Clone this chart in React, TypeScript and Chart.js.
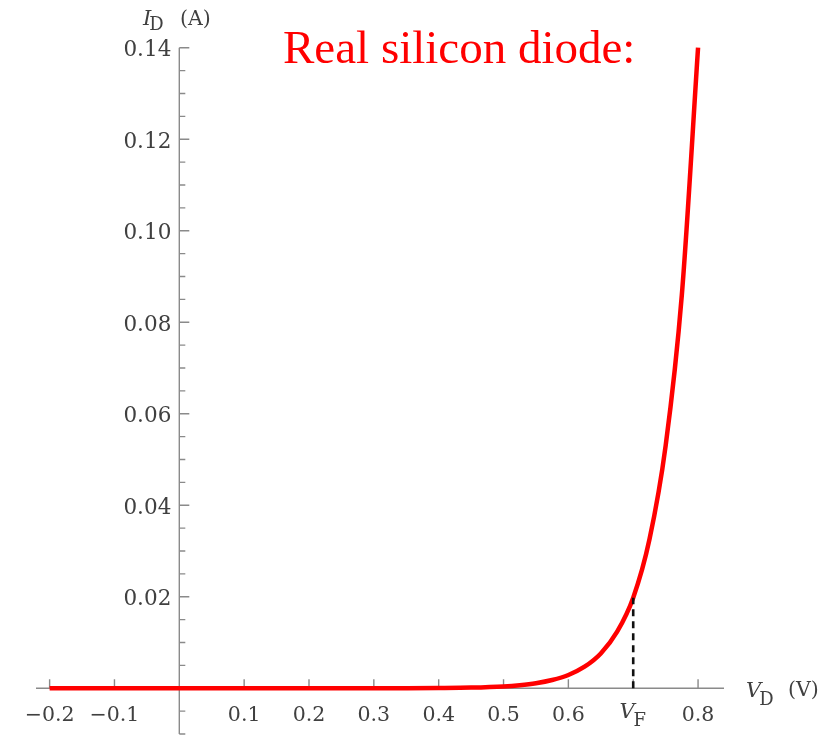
import React, { useEffect, useRef } from "react";
import { Chart, registerables } from "chart.js";

Chart.register(...registerables);

// ---- data ----
const VOLTAGE = [-0.2, 0, 0.2, 0.3, 0.35, 0.4, 0.45, 0.5, 0.525, 0.55, 0.575, 0.6, 0.625, 0.65, 0.675, 0.7, 0.725, 0.75, 0.775, 0.8];
const CURRENT = [0, 0, 0, 0.000004, 0.00002, 0.00006, 0.00015, 0.0004, 0.00067, 0.0011, 0.0018, 0.0029, 0.0047, 0.0076, 0.0123, 0.0198, 0.0325, 0.053, 0.086, 0.14];

const VF_VOLTAGE = 0.7;
const VF_CURRENT = 0.0198;

const X_TICK_VALUES = [-0.2, -0.1, 0.1, 0.2, 0.3, 0.4, 0.5, 0.6, 0.7, 0.8];
const X_TICK_LABELS = ["\u22120.2", "\u22120.1", "0.1", "0.2", "0.3", "0.4", "0.5", "0.6", "VF", "0.8"];
const Y_MAJOR_TICKS = [0.02, 0.04, 0.06, 0.08, 0.1, 0.12, 0.14];
const Y_MAJOR_LABELS = ["0.02", "0.04", "0.06", "0.08", "0.10", "0.12", "0.14"];
const Y_MINOR_STEP = 0.005;

const X_MIN = -0.221;
const X_MAX = 0.84;
const Y_MIN = -0.01;
const Y_MAX = 0.14;

const TITLE = "Real silicon diode:";

const AXIS_COLOR = "#8a8a8a";
const LABEL_COLOR = "#404040";
const SERIF = '"DejaVu Serif", serif';

const axesPlugin = {
  id: "mathAxes",
  beforeDatasetsDraw(chart: any) {
    const ctx: CanvasRenderingContext2D = chart.ctx;
    const xs = chart.scales.x;
    const ys = chart.scales.y;
    const x0 = xs.getPixelForValue(0);
    const y0 = ys.getPixelForValue(0);
    ctx.save();
    ctx.strokeStyle = AXIS_COLOR;
    ctx.lineWidth = 1.4;
    // axis lines
    ctx.beginPath();
    ctx.moveTo(xs.getPixelForValue(X_MIN), y0);
    ctx.lineTo(xs.getPixelForValue(X_MAX), y0);
    ctx.moveTo(x0, ys.getPixelForValue(Y_MIN));
    ctx.lineTo(x0, ys.getPixelForValue(Y_MAX));
    ctx.stroke();
    // y ticks
    ctx.beginPath();
    const nMinor = Math.round((Y_MAX - Y_MIN) / Y_MINOR_STEP);
    for (let i = 0; i <= nMinor; i++) {
      const v = Y_MIN + i * Y_MINOR_STEP;
      if (Math.abs(v) < 1e-9) continue;
      const isMajor = Y_MAJOR_TICKS.some((m) => Math.abs(m - v) < 1e-9);
      const py = ys.getPixelForValue(v);
      ctx.moveTo(x0, py);
      ctx.lineTo(x0 + (isMajor ? 10 : 6), py);
    }
    // x ticks (pointing up)
    X_TICK_VALUES.forEach((v) => {
      const px = xs.getPixelForValue(v);
      ctx.moveTo(px, y0);
      ctx.lineTo(px, y0 - 9);
    });
    ctx.stroke();

    // labels
    ctx.fillStyle = LABEL_COLOR;
    ctx.textBaseline = "alphabetic";
    ctx.textAlign = "right";
    ctx.font = `21.5px ${SERIF}`;
    Y_MAJOR_TICKS.forEach((v, i) => {
      ctx.fillText(Y_MAJOR_LABELS[i], x0 - 8, ys.getPixelForValue(v) + 8.5);
    });
    X_TICK_VALUES.forEach((v, i) => {
      const px = xs.getPixelForValue(v);
      const lab = X_TICK_LABELS[i];
      if (lab === "VF") {
        ctx.font = `italic 21px ${SERIF}`;
        const wV = ctx.measureText("V").width;
        ctx.font = `18px ${SERIF}`;
        const wF = ctx.measureText("F").width;
        const left = px - (wV + wF) / 2;
        ctx.textAlign = "left";
        ctx.font = `italic 21px ${SERIF}`;
        ctx.fillText("V", left, y0 + 30);
        ctx.font = `18px ${SERIF}`;
        ctx.fillText("F", left + wV - 1, y0 + 38);
      } else {
        ctx.font = `20.5px ${SERIF}`;
        ctx.textAlign = "center";
        ctx.fillText(lab, px, y0 + 33);
      }
    });

    // axis titles
    ctx.textAlign = "left";
    // I_D (A)
    ctx.font = `italic 21px ${SERIF}`;
    const wI = ctx.measureText("I").width;
    ctx.fillText("I", 143, 25);
    ctx.font = `18px ${SERIF}`;
    ctx.fillText("D", 143 + wI - 2, 30);
    ctx.font = `20.5px ${SERIF}`;
    ctx.fillText("(A)", 180, 25);
    // V_D (V)
    ctx.font = `italic 21px ${SERIF}`;
    const wV2 = ctx.measureText("V").width;
    ctx.fillText("V", 746, y0 + 8.5);
    ctx.font = `18px ${SERIF}`;
    ctx.fillText("D", 746 + wV2 - 2, y0 + 17);
    ctx.font = `20.5px ${SERIF}`;
    ctx.fillText("(V)", 788, y0 + 8);
    ctx.restore();
  },
  afterDraw(chart: any) {
    const ctx: CanvasRenderingContext2D = chart.ctx;
    ctx.save();
    ctx.fillStyle = "#ff0000";
    ctx.font = '47px "Liberation Serif"';
    ctx.textAlign = "left";
    ctx.textBaseline = "alphabetic";
    ctx.fillText(TITLE, 283, 63);
    ctx.restore();
  },
};

export default function App() {
  const ref = useRef<HTMLCanvasElement>(null);
  useEffect(() => {
    if (!ref.current) return;
    const chart = new Chart(ref.current, {
      type: "scatter",
      data: {
        datasets: [
          {
            data: [
              { x: VF_VOLTAGE, y: 0 },
              { x: VF_VOLTAGE, y: VF_CURRENT },
            ],
            showLine: true,
            borderColor: "#111111",
            borderWidth: 2.6,
            borderDash: [7, 5],
            pointRadius: 0,
            clip: false as any,
          },
          {
            data: VOLTAGE.map((v, i) => ({ x: v, y: CURRENT[i] })),
            showLine: true,
            borderColor: "#ff0000",
            borderWidth: 4.5,
            pointRadius: 0,
            cubicInterpolationMode: "monotone",
            borderCapStyle: "butt",
            clip: false as any,
          },
        ],
      },
      options: {
        animation: false,
        responsive: false,
        events: [],
        layout: { padding: { left: 36, right: 112, top: 47.7, bottom: 2 } },
        plugins: {
          legend: { display: false },
          tooltip: { enabled: false },
          title: { display: false },
        },
        scales: {
          x: { type: "linear", display: false, min: X_MIN, max: X_MAX },
          y: { type: "linear", display: false, min: Y_MIN, max: Y_MAX },
        },
      },
      plugins: [axesPlugin],
    });
    return () => chart.destroy();
  }, []);
  return (
    <div style={{ position: "absolute", left: 0, top: 0, width: 836, height: 736, background: "#fff" }}>
      <canvas ref={ref} width={836} height={736} style={{ display: "block" }} />
    </div>
  );
}
